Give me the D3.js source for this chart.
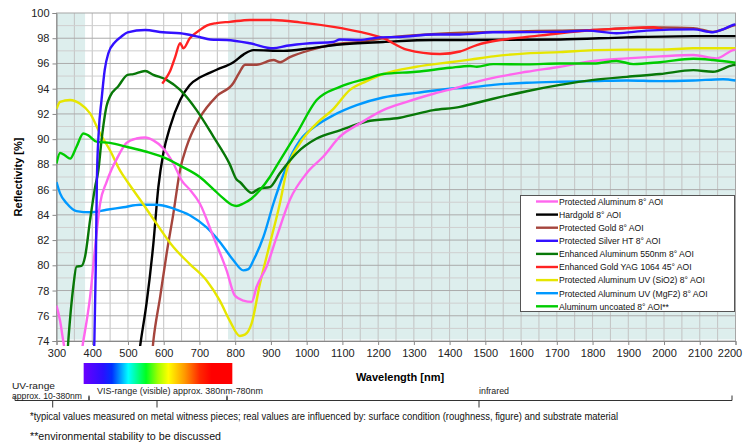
<!DOCTYPE html>
<html><head><meta charset="utf-8">
<script src="https://cdn.jsdelivr.net/npm/d3@7"></script>
<style>body{margin:0;background:#fff}svg{display:block}</style>
</head><body>
<svg id="chart" width="743" height="444"></svg>
<script>
// ---------- data (wavelength nm, reflectivity %) ----------
const seriesNames = ["Protected Aluminum 8° AOI","Hardgold 8° AOI","Protected Gold 8° AOI","Protected Silver HT 8° AOI","Enhanced Aluminum 550nm 8° AOI","Enhanced Gold YAG 1064 45° AOI","Protected Aluminum UV (SiO2) 8° AOI","Protected Aluminum UV (MgF2) 8° AOI","Aluminum uncoated 8° AOI**"];
const seriesColors = ["#ff66ee","#000000","#a5453d","#3311ff","#087808","#ff2222","#e6e600","#0099ff","#00cc00"];

const protectedAluminum = [[300,76.8],[310,75.6],[319,74],[330,72.4],[365,72.4],[375,74],[394,77.5],[408,81.4],[422,84.9],[440,86.6],[454,87.6],[468,88.4],[496,89.7],[524,90.05],[548,90.13],[571,89.9],[599,89.26],[627,88.07],[651,86.7],[673,86.0],[701,84.9],[739,82.25],[776,79.6],[799,77.6],[823,77.2],[846,77.1],[860,78.3],[888,79.9],[916,82.25],[953,85.2],[1000,87.3],[1046,88.6],[1093,90.2],[1149,91.25],[1214,92.3],[1280,92.96],[1355,93.6],[1429,94.15],[1457,94.4],[1522,94.86],[1616,95.34],[1709,95.74],[1803,96.2],[1896,96.4],[1989,96.56],[2082,96.67],[2147,96.4],[2193,97.06],[2200,97.1]];
const hardgold = [[526,72],[536,74],[552,77],[571,81.7],[585,86.2],[599,88.9],[618,91],[646,93.1],[673,94.3],[702,94.9],[748,95.5],[795,96.1],[823,96.7],[851,97.06],[935,97.0],[1009,97.2],[1093,97.5],[1214,97.7],[1355,97.86],[1457,97.86],[1709,97.9],[1896,98.07],[2082,98.17],[2200,98.17]];
const protectedGold = [[564,72],[571,74],[590,77.5],[608,80.9],[627,84.1],[646,87.6],[664,89.4],[701,91.7],[748,93.4],[795,94.45],[810,95.2],[828,95.9],[860,95.9],[907,96.27],[926,96.1],[953,96.5],[1009,97.06],[1075,97.5],[1149,97.7],[1214,98.0],[1307,98.25],[1401,98.4],[1522,98.5],[1709,98.6],[1803,98.65],[1896,98.8],[1989,98.85],[2082,98.8],[2137,98.5],[2165,98.7],[2193,99.0],[2200,99.05]];
const protectedSilver = [[402,72],[406,74],[410,80],[413,86.7],[418,90.5],[426,93.1],[435,95.5],[445,96.8],[464,97.7],[480,98.1],[499,98.47],[548,98.65],[598,98.47],[646,98.4],[700,98.1],[730,97.9],[776,97.86],[841,97.6],[907,97.2],[944,97.4],[1009,97.6],[1074,97.7],[1093,97.9],[1149,97.86],[1205,98.07],[1261,98.1],[1355,98.3],[1429,98.3],[1522,98.47],[1709,98.5],[1784,98.6],[1867,98.4],[1951,98.6],[2082,98.7],[2137,98.47],[2165,98.7],[2193,99.05],[2200,99.1]];
const enhancedAluminum = [[328,72],[333,74],[347,78.3],[356,79.9],[370,79.95],[380,80.7],[394,83.6],[408,86.2],[417,87.5],[426,89.9],[440,92.6],[450,93.4],[473,94.2],[499,95.1],[515,95.16],[548,95.4],[571,95.1],[608,94.7],[646,93.9],[692,92.3],[739,90.2],[785,88.0],[804,86.8],[813,86.6],[846,85.74],[869,86.1],[897,86.2],[925,87.3],[972,88.9],[1028,90.05],[1093,90.7],[1168,91.4],[1261,91.7],[1355,92.3],[1429,92.56],[1457,92.75],[1522,93.2],[1616,93.8],[1709,94.3],[1803,94.7],[1896,94.94],[1989,95.16],[2082,95.47],[2137,95.34],[2193,95.87],[2200,95.9]];
const enhancedGold = [[596,94.4],[608,94.9],[618,95.4],[632,96.5],[646,97.6],[655,97.2],[673,98.0],[701,98.65],[720,99.0],[748,99.2],[785,99.3],[841,99.45],[906,99.44],[981,99.26],[1075,98.9],[1149,98.5],[1214,98.0],[1280,97.1],[1373,96.75],[1429,96.95],[1476,97.46],[1541,97.86],[1616,98.1],[1709,98.4],[1803,98.65],[1896,98.8],[1971,98.87],[1998,98.65]];
const protectedAlUVSiO2 = [[300,92.4],[310,92.96],[338,93.1],[366,92.8],[394,92.04],[422,90.45],[450,89.1],[478,87.5],[499,86.6],[534,85.2],[580,83.3],[627,81.45],[673,80.1],[720,78.8],[757,77.2],[785,75.6],[813,74.4],[827,74.5],[846,75.4],[869,78.5],[897,81.7],[925,84.9],[944,87.5],[981,89.66],[1028,91.25],[1075,92.4],[1121,93.9],[1168,94.6],[1214,95.16],[1307,95.74],[1401,96.1],[1457,96.3],[1522,96.56],[1616,96.8],[1709,96.9],[1803,97.06],[1896,97.1],[1989,97.1],[2082,97.2],[2200,97.2]];
const protectedAlUVMgF2 = [[300,86.6],[310,85.7],[329,84.9],[356,84.3],[394,84.2],[440,84.4],[487,84.6],[534,84.8],[580,84.8],[627,84.5],[673,83.97],[720,83.0],[757,81.85],[795,80.4],[823,79.6],[837,79.7],[851,80.4],[879,82.25],[907,84.9],[935,87.2],[960,88.9],[981,89.9],[1028,91.1],[1075,91.9],[1140,92.7],[1214,93.3],[1307,93.67],[1401,94.0],[1457,94.1],[1522,94.3],[1616,94.47],[1709,94.55],[1803,94.6],[1896,94.65],[1989,94.6],[2082,94.65],[2165,94.75],[2200,94.65]];
const aluminumUncoated = [[300,88.07],[310,88.9],[324,88.7],[338,88.46],[356,89.4],[375,90.45],[389,90.3],[412,89.8],[450,89.7],[496,89.4],[552,89.0],[608,88.46],[646,87.9],[701,87.0],[740,86.0],[767,85.3],[790,84.8],[804,84.7],[823,84.9],[846,85.3],[869,85.95],[897,87.0],[925,88.3],[972,90.45],[1028,93.1],[1093,94.15],[1168,94.8],[1214,95.16],[1307,95.34],[1401,95.66],[1457,95.8],[1476,95.74],[1522,95.95],[1616,95.93],[1709,96.0],[1803,96.0],[1867,96.2],[1914,95.95],[1989,96.1],[2082,96.37],[2137,96.27],[2200,96.06]];

const seriesData = [protectedAluminum,hardgold,protectedGold,protectedSilver,enhancedAluminum,enhancedGold,protectedAlUVSiO2,protectedAlUVMgF2,aluminumUncoated];
const drawOrder = [2,1,7,6,4,0,8,5,3];

const xTicks = [300,400,500,600,700,800,900,1000,1100,1200,1300,1400,1500,1600,1700,1800,1900,2000,2100,2200];
const yTicks = [74,76,78,80,82,84,86,88,90,92,94,96,98,100];
const shadedRanges = [[300,380],[780,2200]];
const spectrumRange = [376,792];
const spectrumStops = [[0,"#6a00ff"],[0.13,"#2a10ff"],[0.19,"#0030ff"],[0.3,"#00ffff"],[0.42,"#00ff20"],[0.5,"#a0ff00"],[0.57,"#ffff00"],[0.68,"#ff9800"],[0.78,"#ff2800"],[0.86,"#ff0000"],[1,"#ff0000"]];
const rangeLabels = ["UV-range","approx. 10-380nm","VIS-range (visible) approx. 380nm-780nm","infrared"];
const footnotes = ["*typical values measured on metal witness pieces; real values are influenced by: surface condition (roughness, figure) and substrate material","**environmental stability to be discussed"];

// ---------- layout ----------
const svg = d3.select("#chart");
const L = 56.5, R = 735.5, T = 13, B = 341;
const x = d3.scaleLinear().domain([300,2200]).range([L,R]);
const y = d3.scaleLinear().domain([74,100]).range([B,T]);
const chartFont = "'Liberation Sans', Arial, sans-serif";

// shading
svg.append("g").selectAll("rect").data(shadedRanges).join("rect")
  .attr("x", d=>x(d[0])).attr("y", T).attr("width", d=>x(d[1])-x(d[0])).attr("height", B-T-1.5)
  .attr("fill", "#ddeeed");

// grid
const g = svg.append("g");
g.selectAll("line.v").data(d3.range(350,2200,50)).join("line")
  .attr("x1", d=>x(d)).attr("x2", d=>x(d)).attr("y1", T).attr("y2", B)
  .attr("stroke", "#c3c3c3").attr("stroke-width", 1);
g.selectAll("line.h").data(d3.range(75,100,1)).join("line")
  .attr("x1", L).attr("x2", R).attr("y1", d=>y(d)).attr("y2", d=>y(d))
  .attr("stroke", d=> d%2===0 ? "#ababab" : "#cfcfcf").attr("stroke-width", 1);
// frame
svg.append("rect").attr("x", L).attr("y", T).attr("width", R-L).attr("height", B-T)
  .attr("fill","none").attr("stroke","#a6a6a6").attr("stroke-width",1);

// axes
const yAxis = svg.append("g").attr("transform", `translate(${L},0)`)
  .call(d3.axisLeft(y).tickValues(yTicks).tickSize(4).tickFormat(d3.format("d")));
const xAxis = svg.append("g").attr("transform", `translate(0,${B})`)
  .call(d3.axisBottom(x).tickValues(xTicks).tickSize(4).tickFormat(d3.format("d")));
[xAxis,yAxis].forEach(a=>{
  a.select(".domain").attr("stroke","#888");
  a.selectAll(".tick line").attr("stroke","#888");
  a.selectAll("text").attr("font-family",chartFont).attr("font-size","11px").attr("fill","#222");
});
yAxis.selectAll("text").attr("x",-7);
xAxis.selectAll("text").attr("y",8).attr("dx", d => d===2200 ? -6 : 0);

// axis titles
svg.append("text").attr("x", 400).attr("y", 381).attr("text-anchor","middle")
  .attr("font-family",chartFont).attr("font-weight","bold").attr("font-size","11px").text("Wavelength [nm]");
svg.append("text").attr("transform","translate(22,177) rotate(-90)").attr("text-anchor","middle")
  .attr("font-family",chartFont).attr("font-weight","bold").attr("font-size","11px").text("Reflectivity [%]");

// curves
svg.append("clipPath").attr("id","clip").append("rect")
  .attr("x", L).attr("y", T-3).attr("width", R-L+1).attr("height", B-T+8);
const line = d3.line().x(d=>x(d[0])).y(d=>y(d[1])).curve(d3.curveMonotoneX);
svg.append("g").attr("clip-path","url(#clip)").selectAll("path").data(drawOrder).join("path")
  .attr("d", i=>line(seriesData[i])).attr("fill","none")
  .attr("stroke", i=>seriesColors[i]).attr("stroke-width",2.4).attr("stroke-linejoin","round");

// legend
const lg = svg.append("g");
lg.append("rect").attr("x",520.5).attr("y",195.5).attr("width",214).attr("height",116)
  .attr("fill","#fff").attr("stroke","#555").attr("stroke-width",1);
const items = lg.selectAll("g.item").data(seriesNames).join("g")
  .attr("transform",(d,i)=>`translate(0,${201.5+i*13.1})`);
items.append("line").attr("x1",536).attr("x2",558).attr("y1",0).attr("y2",0)
  .attr("stroke",(d,i)=>seriesColors[i]).attr("stroke-width",2.4);
items.append("text").attr("x",559).attr("y",3.3).attr("font-family",chartFont)
  .attr("font-size","8.6px").attr("fill","#111").text(d=>d);

// spectrum bar
const grad = svg.append("defs").append("linearGradient").attr("id","spec");
grad.selectAll("stop").data(spectrumStops).join("stop")
  .attr("offset",d=>d[0]).attr("stop-color",d=>d[1]);
svg.append("rect").attr("x",x(spectrumRange[0])).attr("y",363)
  .attr("width",x(spectrumRange[1])-x(spectrumRange[0])).attr("height",21)
  .attr("fill","url(#spec)");

// range brackets
const br = svg.append("g").attr("stroke","#333").attr("stroke-width",1).attr("fill","none");
const brackets = [[15,89,52.7],[89,227,157],[227,732,479]];
brackets.forEach(b=>{
  br.append("path").attr("d",`M${b[0]},396.5 V400.5 H${b[1]} V395.5`);
  br.append("line").attr("x1",b[2]).attr("x2",b[2]).attr("y1",400.5).attr("y2",407.5);
});
const small = "'Liberation Sans', Arial, sans-serif";
svg.append("text").attr("x",12).attr("y",389).attr("font-family",small).attr("font-size","9.5px")
  .attr("fill","#222").attr("textLength",43).attr("lengthAdjust","spacingAndGlyphs").text(rangeLabels[0]);
svg.append("text").attr("x",12).attr("y",398.5).attr("font-family",small).attr("font-size","9.5px")
  .attr("fill","#222").attr("textLength",70).attr("lengthAdjust","spacingAndGlyphs").text(rangeLabels[1]);
svg.append("text").attr("x",97).attr("y",393.5).attr("font-family",small).attr("font-size","9.5px")
  .attr("fill","#222").attr("textLength",166).attr("lengthAdjust","spacingAndGlyphs").text(rangeLabels[2]);
svg.append("text").attr("x",479).attr("y",394).attr("font-family",small).attr("font-size","9.5px")
  .attr("fill","#222").attr("textLength",30).attr("lengthAdjust","spacingAndGlyphs").text(rangeLabels[3]);
svg.append("text").attr("x",30).attr("y",420).attr("font-family",small).attr("font-size","10.5px")
  .attr("fill","#111").attr("textLength",588).attr("lengthAdjust","spacingAndGlyphs").text(footnotes[0]);
svg.append("text").attr("x",30).attr("y",440).attr("font-family",small).attr("font-size","10.5px")
  .attr("fill","#111").attr("textLength",191).attr("lengthAdjust","spacingAndGlyphs").text(footnotes[1]);
</script>
</body></html>
